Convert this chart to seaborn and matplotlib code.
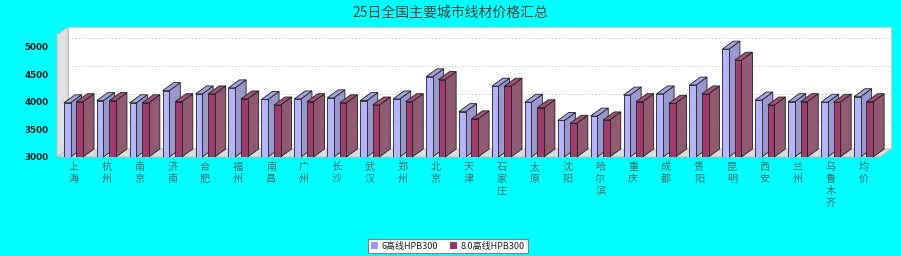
import matplotlib
matplotlib.use("Agg")
import matplotlib.pyplot as plt
import seaborn as sns
import pandas as pd
from matplotlib.patches import Polygon, Rectangle, Patch
from matplotlib.lines import Line2D

cities = ["上海", "杭州", "南京", "济南", "合肥", "福州", "南昌", "广州", "长沙", "武汉",
          "郑州", "北京", "天津", "石家庄", "太原", "沈阳", "哈尔滨", "重庆", "成都", "贵阳",
          "昆明", "西安", "兰州", "乌鲁木齐", "均价"]
series_names = ["6高线HPB300", "8.0高线HPB300"]
hpb_6 = [3980, 4020, 3980, 4200, 4140, 4250, 4040, 4050, 4070, 4020,
         4050, 4450, 3820, 4280, 3990, 3660, 3740, 4120, 4140, 4300,
         4950, 4030, 4000, 3990, 4090]
hpb_8 = [4000, 4020, 3980, 4000, 4140, 4050, 3940, 4000, 3980, 3940,
         4000, 4400, 3690, 4280, 3890, 3610, 3670, 4000, 3970, 4140,
         4750, 3940, 4000, 3990, 4000]
title = "25日全国主要城市线材价格汇总"
yticks = [3000, 3500, 4000, 4500, 5000]

sns.set_theme(style="white")
plt.rcParams["font.family"] = ["Noto Sans CJK SC", "DejaVu Sans"]

df = pd.DataFrame({
    "city": cities * 2,
    "series": [series_names[0]] * len(cities) + [series_names[1]] * len(cities),
    "value": hpb_6 + hpb_8,
})

W, H = 901, 256
fig = plt.figure(figsize=(W / 100, H / 100), dpi=100)
fig.patch.set_facecolor("#00ffff")

left_px, right_px, top_px, bot_px = 57, 880, 35, 157
ax = fig.add_axes([left_px / W, 1 - bot_px / H, (right_px - left_px) / W, (bot_px - top_px) / H])
ax.set_facecolor("none")

front = {"6高线HPB300": "#b4b4ff", "8.0高线HPB300": "#a03c6c"}
side = {"#b4b4ff": "#9898cc", "#a03c6c": "#925a70"}
top_c = {"#b4b4ff": "#a4a4e4", "#a03c6c": "#a25278"}

sns.barplot(data=df, x="city", y="value", hue="series", order=cities,
            hue_order=series_names, palette=front, width=0.76, gap=0.47,
            saturation=1, ax=ax, legend=False, edgecolor="#202020", linewidth=0.6)
bars = list(ax.patches)

ymin, ymax = 3000, 5206
ax.set_ylim(ymin, ymax)
ax.set_xlim(-0.5, len(cities) - 0.5)
n = len(cities)

dx_px, dy_px = 11, 8
odx = dx_px / (right_px - left_px)
ody = dy_px / (bot_px - top_px)
ddx = odx * n
ddy = ody * (ymax - ymin)

# back wall, floor, left wall
ax.add_patch(Rectangle((odx, ody), 1, 1, transform=ax.transAxes, facecolor="white",
                       edgecolor="#c8c8c8", lw=0.8, zorder=0.1, clip_on=False))
ax.add_patch(Polygon([(0, 0), (1, 0), (1 + odx, ody), (odx, ody)], closed=True,
                     transform=ax.transAxes, facecolor="#dcdcdc", edgecolor="#b8b8b8",
                     lw=0.6, zorder=0.3, clip_on=False))
ax.add_patch(Polygon([(0, 0), (odx, ody), (odx, 1 + ody), (0, 1)], closed=True,
                     transform=ax.transAxes, facecolor="#e0e0e0", edgecolor="#b8b8b8",
                     lw=0.6, zorder=0.3, clip_on=False))
for yv in yticks[1:]:
    ax.add_line(Line2D([odx, 1 + odx], [(yv - ymin) / (ymax - ymin) + ody] * 2,
                       transform=ax.transAxes, color="#d0d0d0", lw=0.6, ls=(0, (2, 2)),
                       zorder=0.2, clip_on=False))

# 3D faces for each bar
for p in bars:
    x0 = p.get_x()
    w = p.get_width()
    top = p.get_y() + p.get_height()
    cx = x0 + w / 2
    cat = int(round(cx))
    j = 0 if cx < cat else 1
    z = 1 + (cat * 2 + j) * 0.01
    fc = matplotlib.colors.to_hex(p.get_facecolor())
    p.set_zorder(z + 0.005)
    ax.add_patch(Polygon([(x0 + w, ymin), (x0 + w + ddx, ymin + ddy), (x0 + w + ddx, top + ddy),
                          (x0 + w, top)], closed=True, facecolor=side.get(fc, "#999999"),
                         edgecolor="#202020", lw=0.6, zorder=z, clip_on=False))
    ax.add_patch(Polygon([(x0, top), (x0 + ddx, top + ddy), (x0 + w + ddx, top + ddy),
                          (x0 + w, top)], closed=True, facecolor=top_c.get(fc, "#999999"),
                         edgecolor="#202020", lw=0.6, zorder=z, clip_on=False))

for s in ax.spines.values():
    s.set_visible(False)
ax.set_xlabel("")
ax.set_ylabel("")
ax.set_yticks(yticks)
ax.set_yticklabels([str(v) for v in yticks], fontsize=6.3, fontweight="bold",
                   color="#1a1a1a", family="DejaVu Sans")
ax.set_xticks(range(n))
ax.set_xticklabels(["\n".join(c) for c in cities], fontsize=7.3, color="#4a6868",
                   linespacing=1.25, va="top")
ax.tick_params(axis="x", length=0, pad=3.5)
ax.tick_params(axis="y", length=0, pad=6)
ax.grid(False)

fig.text(450 / W, 1 - 13 / H, title, ha="center", va="center", fontsize=10,
         color="#404040")

handles = [Patch(facecolor="#9999ff", edgecolor="none"),
           Patch(facecolor="#993366", edgecolor="none")]
leg = fig.legend(handles, series_names, loc="center", bbox_to_anchor=(448 / W, 1 - 246 / H),
                 ncol=2, fontsize=6.5, frameon=True, fancybox=False, handlelength=0.8,
                 handleheight=0.8, handletextpad=0.4, columnspacing=1.3, borderpad=0.3,
                 borderaxespad=0)
leg.get_frame().set_edgecolor("#808080")
leg.get_frame().set_linewidth(0.8)
leg.get_frame().set_facecolor("white")
leg.get_frame().set_alpha(1)
for t in leg.get_texts():
    t.set_color("#202020")

fig.savefig("out.png", dpi=100, facecolor=fig.get_facecolor())
